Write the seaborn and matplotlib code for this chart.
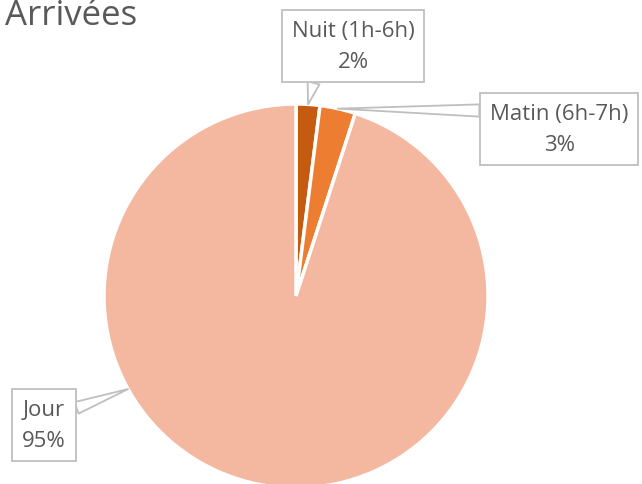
#!/usr/bin/env python3
"""
Pie chart of arrival times (Arrivées).
"""

import numpy as np
import matplotlib
matplotlib.use("Agg")
import matplotlib.pyplot as plt
import seaborn as sns

# Data
categories = ["Nuit (1h-6h)", "Matin (6h-7h)", "Jour"]
shares = [2, 3, 95]
colors = ["#C55A11", "#ED7D31", "#F4B8A0"]

sns.set_theme(style="white")
plt.rcParams["font.family"] = ["Open Sans", "DejaVu Sans"]

fig = plt.figure(figsize=(6.42, 4.85), dpi=100)
ax = fig.add_axes([104 / 642, -4 / 485, 384 / 642, 384 / 485])

wedges, _ = ax.pie(shares, colors=colors, startangle=90, counterclock=False,
                   radius=1, wedgeprops=dict(edgecolor="white", linewidth=2.5))
ax.set_xlim(-1, 1)
ax.set_ylim(-1, 1)
ax.set_aspect("equal")
ax.axis("off")

# Callout placement: (text position in figure coords, relpos of the pointer, angle on rim)
label_layout = [
    ((0.55, 0.903), (0.2, 0.0), None),
    ((0.871, 0.732), (0.0, 0.85), None),
    ((0.0685, 0.122), (1.0, 0.75), 209),
]

for wedge, name, pct, (txt_pos, relpos, ang) in zip(wedges, categories, shares, label_layout):
    if ang is None:
        ang = (wedge.theta1 + wedge.theta2) / 2
    rad = np.deg2rad(ang)
    xy = (np.cos(rad), np.sin(rad))
    ax.annotate(f"{name}\n{pct}%", xy=xy, xycoords="data",
                xytext=txt_pos, textcoords="figure fraction",
                ha="center", va="center", fontsize=16, color="#595959",
                linespacing=1.65,
                bbox=dict(boxstyle="square,pad=0.45", fc="white", ec="#BFBFBF", lw=1.3),
                arrowprops=dict(arrowstyle="wedge,tail_width=0.55", fc="white",
                                ec="#BFBFBF", lw=1.3, relpos=relpos,
                                shrinkA=0, shrinkB=0))

fig.text(0.008, 1 - 25 / 485, "Arrivées", ha="left", va="baseline",
         fontsize=25, color="#595959")

fig.savefig("out.png", dpi=100)
plt.close(fig)
